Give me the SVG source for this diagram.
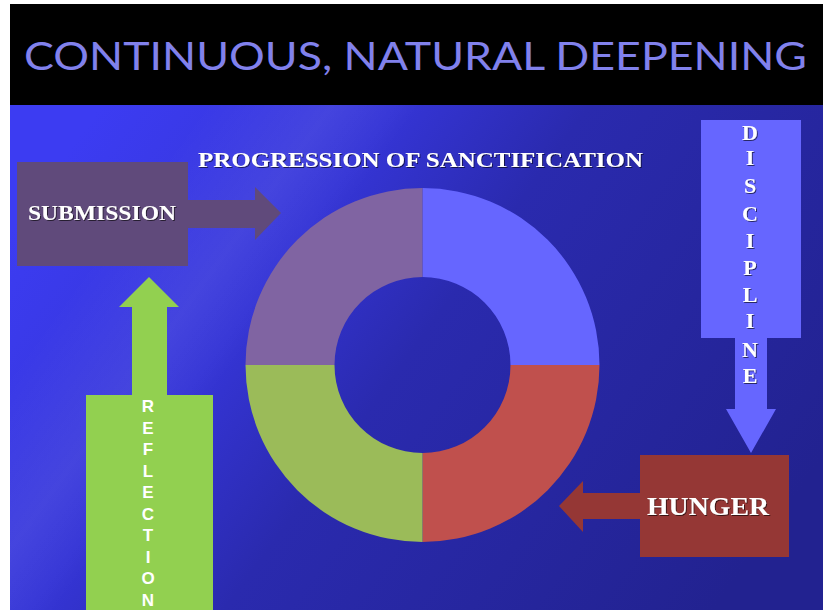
<svg xmlns="http://www.w3.org/2000/svg" width="829" height="610" viewBox="0 0 829 610">
<defs>
<linearGradient id="bg" x1="0" y1="0.25" x2="1" y2="0.7">
<stop offset="0" stop-color="#3c3cf2"/>
<stop offset="0.3" stop-color="#3535d6"/>
<stop offset="0.5" stop-color="#2a2aae"/>
<stop offset="1" stop-color="#222290"/>
</linearGradient>
<linearGradient id="streak" x1="0" y1="0" x2="1" y2="0.45">
<stop offset="0.2" stop-color="#ffffff" stop-opacity="0"/>
<stop offset="0.33" stop-color="#ffffff" stop-opacity="0.07"/>
<stop offset="0.42" stop-color="#ffffff" stop-opacity="0"/>
</linearGradient>
<filter id="sh" x="-10%" y="-10%" width="120%" height="130%">
<feDropShadow dx="1" dy="1" stdDeviation="0.6" flood-color="#000" flood-opacity="0.6"/>
</filter>
</defs>
<style>
.title{font-family:Lato,"Open Sans","DejaVu Sans",sans-serif;font-size:39px;fill:#8181ec}
.serif{font-family:"Liberation Serif","DejaVu Serif",serif;font-weight:bold;fill:#ffffff}
.sans{font-family:"Liberation Sans",Arial,sans-serif;font-weight:bold;fill:#ffffff;font-size:17px;text-anchor:middle}
.vs{font-size:22px;text-anchor:middle}
</style>
<rect width="829" height="610" fill="#ffffff"/>
<rect x="10" y="105" width="813" height="505" fill="url(#bg)"/>
<rect x="10" y="105" width="813" height="505" fill="url(#streak)"/>
<rect x="10" y="4" width="813" height="101" fill="#000000"/>
<text class="title" x="24" y="70" textLength="783" lengthAdjust="spacingAndGlyphs">CONTINUOUS, NATURAL DEEPENING</text>

<g id="cycle">
<path d="M422.5,188 A177,177 0 0 1 599.5,365 L510.5,365 A88,88 0 0 0 422.5,277 Z" fill="#6666ff"/>
<path d="M599.5,365 A177,177 0 0 1 422.5,542 L422.5,453 A88,88 0 0 0 510.5,365 Z" fill="#c0504d"/>
<path d="M422.5,542 A177,177 0 0 1 245.5,365 L334.5,365 A88,88 0 0 0 422.5,453 Z" fill="#9bbb59"/>
<path d="M245.5,365 A177,177 0 0 1 422.5,188 L422.5,277 A88,88 0 0 0 334.5,365 Z" fill="#8064a2"/>
<text class="serif" x="198" y="167" font-size="22" textLength="445" lengthAdjust="spacingAndGlyphs" filter="url(#sh)">PROGRESSION OF SANCTIFICATION</text>
</g>

<g id="connectors">
<path d="M188,200 L255,200 L255,187 L281,213 L255,240 L255,228 L188,228 Z" fill="#604a7b"/>
<path d="M640,493 L583,493 L583,481 L559,506 L583,532 L583,519 L640,519 Z" fill="#953735"/>
</g>

<g id="submission">
<rect x="17" y="162" width="171" height="104" fill="#604a7b"/>
<text class="serif" x="28" y="220" font-size="21" textLength="148" lengthAdjust="spacingAndGlyphs" filter="url(#sh)">SUBMISSION</text>
</g>

<g id="hunger">
<rect x="640" y="455" width="149" height="102" fill="#953735"/>
<text class="serif" x="647" y="515" font-size="25" textLength="122" lengthAdjust="spacingAndGlyphs" filter="url(#sh)">HUNGER</text>
</g>

<g id="discipline">
<path d="M701,120 L801,120 L801,338 L767,338 L767,409 L776,409 L751,453 L726,409 L735,409 L735,338 L701,338 Z" fill="#6666ff"/>
<g class="serif vs" filter="url(#sh)">
<text x="750" y="140">D</text>
<text x="750" y="165">I</text>
<text x="750" y="193">S</text>
<text x="750" y="221">C</text>
<text x="750" y="248">I</text>
<text x="750" y="275">P</text>
<text x="750" y="302">L</text>
<text x="750" y="328">I</text>
<text x="750" y="357">N</text>
<text x="750" y="383">E</text>
</g>
</g>

<g id="reflection">
<path d="M86,610 L86,395 L132,395 L132,307 L119,307 L149,277 L179,307 L167,307 L167,395 L213,395 L213,610 Z" fill="#92d050"/>
<g class="sans">
<text x="148" y="412">R</text>
<text x="148" y="433.5">E</text>
<text x="148" y="455">F</text>
<text x="148" y="476.5">L</text>
<text x="148" y="498">E</text>
<text x="148" y="519.5">C</text>
<text x="148" y="541">T</text>
<text x="148" y="562.5">I</text>
<text x="148" y="584">O</text>
<text x="148" y="605.5">N</text>
</g>
</g>
</svg>
